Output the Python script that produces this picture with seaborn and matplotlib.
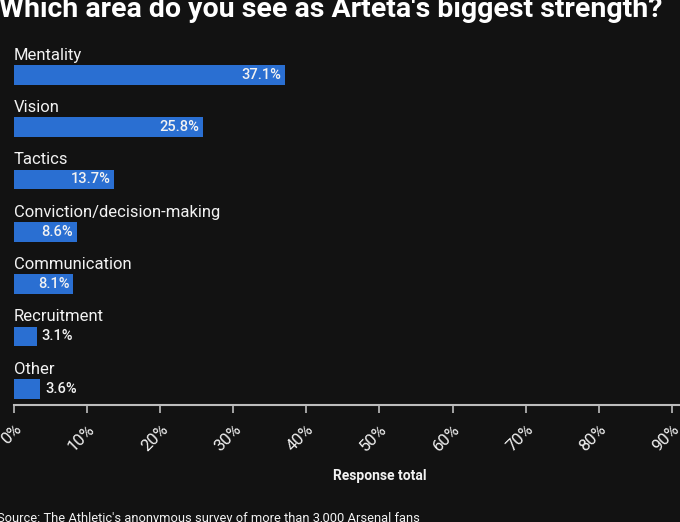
import pandas as pd
import matplotlib
matplotlib.use('Agg')
import matplotlib.pyplot as plt
import seaborn as sns

# Data
categories = ['Mentality', 'Vision', 'Tactics', 'Conviction/decision-making',
              'Communication', 'Recruitment', 'Other']
values = [37.1, 25.8, 13.7, 8.6, 8.1, 3.1, 3.6]
tick_values = [0, 10, 20, 30, 40, 50, 60, 70, 80, 90, 100]
tick_labels = [f'{t}%' for t in tick_values]

df = pd.DataFrame({'category': categories, 'value': values})

bg = '#121212'
bar_color = '#2a6fd2'
fg = '#f2f2f2'

sns.set_theme(style='dark')
plt.rcParams['font.family'] = ['Roboto', 'DejaVu Sans']

fig = plt.figure(figsize=(6.8, 5.22), dpi=100, facecolor=bg)
# axes run past the right edge, like the cropped original
ax = fig.add_axes([14 / 680, 117 / 522, 731 / 680, 372 / 522])
ax.set_facecolor(bg)

sns.barplot(data=df, x='value', y='category', color=bar_color,
            width=0.38, saturation=1, linewidth=0, ax=ax)

ax.set_xlim(0, 100)
ax.set_ylim(6.31, -0.8)

# category labels above the bars, value labels on them
for i, (name, v) in enumerate(zip(categories, values)):
    ax.text(0, i - 0.29, name, color=fg, fontsize=12, va='baseline', ha='left')
    if v > 5:
        ax.text(v - 0.5, i, f'{v}%', color=fg, fontsize=10.5, fontweight='medium',
                va='center', ha='right')
    else:
        ax.text(v + 0.7, i, f'{v}%', color=fg, fontsize=10.5, fontweight='medium',
                va='center', ha='left')

ax.set_yticks([])
ax.set_ylabel('')
ax.set_xticks(tick_values)
ax.set_xticklabels(tick_labels, rotation=45, ha='right', va='top',
                   rotation_mode='anchor', color=fg, fontsize=12)
ax.tick_params(axis='x', colors='#bdbdbd', length=6, width=1.2, pad=6,
               labelcolor=fg, bottom=True)
ax.set_xlabel('Response total', color=fg, fontsize=10, fontweight='bold',
              labelpad=6)

for side in ['top', 'right', 'left']:
    ax.spines[side].set_visible(False)
ax.spines['bottom'].set_color('#bdbdbd')
ax.spines['bottom'].set_linewidth(1.5)
ax.grid(False)

fig.text(-0.002, 1 - 17 / 522, "Which area do you see as Arteta's biggest strength?",
         color='white', fontsize=20.5, fontweight='bold', ha='left', va='baseline')
fig.text(-0.004, 0.006, "Source: The Athletic's anonymous survey of more than 3,000 Arsenal fans",
         color=fg, fontsize=9.3, ha='left', va='center')

fig.savefig('out.png', dpi=100, facecolor=bg)
